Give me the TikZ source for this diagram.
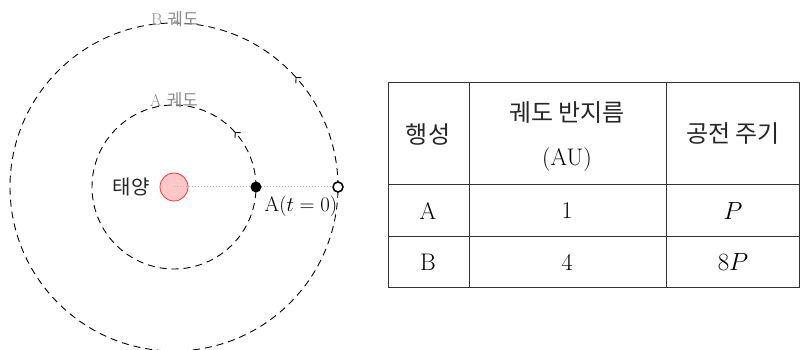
\documentclass[tikz,border=0pt]{standalone}
\usepackage{fontspec}
\newfontfamily\kr{Noto Sans CJK KR}
\usetikzlibrary{positioning, arrows.meta, decorations.markings}

\begin{document}
\begin{tikzpicture}[
    x=1pt, y=1pt,
    orbit/.style={
        draw,
        dash pattern=on 7pt off 5pt,
        line width=0.9pt,
        postaction={decorate},
        decoration={markings, mark=at position 0.117 with {\arrow[line width=0.9pt]{Straight Barb[length=4pt, width=8pt]}}}
    },
    orbitname/.style={text=black!45, inner sep=0pt, font=\fontsize{17}{20}\selectfont},
    cell/.style={inner sep=0pt, font=\fontsize{24}{28}\selectfont},
    rule/.style={line width=1pt, black!80}
]
    \useasboundingbox (0,0) rectangle (802,350);

    % orbits around the sun
    \coordinate (centre) at (174,163);
    \draw[orbit] (centre) circle[radius=82];
    \draw[orbit] (centre) circle[radius=164];
    \node[orbitname] (nameA) at (174,250) {A {\kr 궤도}};
    \node[orbitname] (nameB) at (175,331) {B {\kr 궤도}};

    \node[
        circle,
        minimum size=28,
        fill=red!22,
        draw=red!80,
        line width=0.8pt
    ] (sun) at (centre) {};
    \node[left=10pt of sun, inner sep=0pt, text=black!85, font=\fontsize{20}{24}\selectfont] (sunname) {\kr 태양};

    % planets at t = 0
    \node[circle, inner sep=0pt, minimum size=10] (planetA) at (256,163) {};
    \node[circle, inner sep=0pt, minimum size=10] (planetB) at (338,163) {};
    \draw[black!30, dotted, line width=1pt] (sun.center) -- (planetB.center);
    \node[circle, fill=black, inner sep=0pt, minimum size=11] at (planetA) {};
    \node[circle, draw, fill=white, line width=1.5pt, inner sep=0pt, minimum size=10] at (planetB) {};
    \node[font=\fontsize{21}{24}\selectfont, inner sep=0pt] (startA) at (301,144) {A$(t=0)$};

    % table
    \draw[rule] (388,62) rectangle (799,267);
    \draw[rule] (469,62) -- (469,267);
    \draw[rule] (666,62) -- (666,267);
    \draw[rule] (388,165) -- (799,165);
    \draw[rule] (388,113) -- (799,113);

    \node[cell, text=black!85] (planet) at (428,216) {\kr 행성};
    \node[cell, text=black!85] (radius) at (567,237) {\kr 궤도 반지름};
    \node[cell] (unit) at (567,190) {(AU)};
    \node[cell, text=black!85] (period) at (733,216) {\kr 공전 주기};
    \foreach \name/\r/\p [count=\i] in {A/1/P, B/4/8P} {
        \node[cell] (row\i name) at (428,139-51*\i+51) {\name};
        \node[cell] (row\i r) at (567,139-51*\i+51) {\r};
        \node[cell] (row\i p) at (733,139-51*\i+51) {$\p$};
    }
\end{tikzpicture}
\end{document}
